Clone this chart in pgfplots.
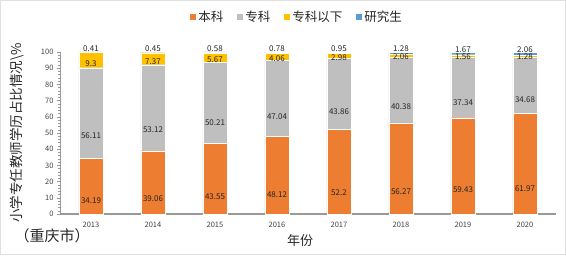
\documentclass[border=0pt]{standalone}
\usepackage{fontspec}
\setmainfont{Noto Sans CJK SC}
\usepackage{pgfplots}
\usepackage{pgfplotstable}
\pgfplotsset{compat=1.18}
\definecolor{cBK}{HTML}{ED7D31}
\definecolor{cZK}{HTML}{BFBFBF}
\definecolor{cXX}{HTML}{FFC000}
\definecolor{cYJ}{HTML}{5B9BD5}
\definecolor{txt}{HTML}{404040}

\pgfplotstableread{
x y
0 34.19
1 39.06
2 43.55
3 48.12
4 52.2
5 56.27
6 59.43
7 61.97
}\benke
\pgfplotstableread{
x y
0 56.11
1 53.12
2 50.21
3 47.04
4 43.86
5 40.38
6 37.34
7 34.68
}\zhuanke
\pgfplotstableread{
x y
0 9.3
1 7.37
2 5.67
3 4.06
4 2.98
5 2.06
6 1.56
7 1.28
}\yixia
\pgfplotstableread{
x y
0 0.41
1 0.45
2 0.58
3 0.78
4 0.95
5 1.28
6 1.67
7 2.06
}\yanjiu

\begin{document}
\begin{tikzpicture}
\draw[black!12, line width=0.8pt] (0.4pt,0.4pt) rectangle (565.6pt,254.6pt);
\begin{axis}[
  at={(60pt,41pt)}, anchor=south west,
  scale only axis, width=496pt, height=162pt,
  ybar stacked, bar width=24pt,
  xmin=-0.5, xmax=7.5, ymin=0, ymax=100,
  clip=false,
  xtick={0,1,2,3,4,5,6,7},
  xticklabels={2013,2014,2015,2016,2017,2018,2019,2020},
  ytick={0,10,...,100},
  minor y tick num=4,
  axis x line*=bottom, axis y line*=left,
  x axis line style={-, draw=black!40, line width=1.2pt},
  y axis line style={-, draw=black!40, line width=0.5pt},
  tick align=outside,
  x tick style={draw=none},
  y tick style={draw=black!40, line width=0.5pt},
  major tick length=3pt, minor tick length=1.8pt,
  /pgf/number format/assume math mode=true,
  ticklabel style={font=\fontsize{7.5}{8}\selectfont, text=txt},
  xticklabel style={yshift=-2pt},
  ylabel={小学专任教师学历占比情况\textbackslash\%},
  ylabel style={at={(axis description cs:-0.0867,0.5)}, anchor=center, font=\fontsize{13.5}{14}\selectfont, text=black!85},
  xlabel={年份},
  xlabel style={at={(axis description cs:0.484,-0.165)}, anchor=center, font=\fontsize{13}{14}\selectfont, text=black!85},
  legend columns=4,
  legend style={draw=none, at={(0.478,1.216)}, anchor=center,
    font=\fontsize{12.5}{13}\selectfont, text=black!85,
    /tikz/every even column/.append style={column sep=12pt}},
  legend image code/.code={\draw[#1, draw=none] (0pt,-3pt) rectangle (6pt,3pt);},
  nodes near coords,
  point meta=explicit,
  every node near coord/.append style={font=\fontsize{8}{9}\selectfont, text=black!85, inner sep=1pt},
]
\addplot[fill=cBK, draw=white, line width=0.3pt,
  visualization depends on={\thisrow{y} \as \val},
  every node near coord/.append style={anchor=center, yshift=-0.405pt*\val}]
  table[x=x, y=y, meta=y] {\benke};
\addlegendentry{本科}
\addplot[fill=cZK, draw=white, line width=0.3pt,
  visualization depends on={\thisrow{y} \as \val},
  every node near coord/.append style={anchor=center, yshift=-0.405pt*\val}]
  table[x=x, y=y, meta=y] {\zhuanke};
\addlegendentry{专科}
\addplot[fill=cXX, draw=white, line width=0.3pt,
  visualization depends on={\thisrow{y} \as \val},
  every node near coord/.append style={anchor=center, yshift=-0.405pt*\val}]
  table[x=x, y=y, meta=y] {\yixia};
\addlegendentry{专科以下}
\addplot[fill=cYJ, draw=white, line width=0.3pt,
  every node near coord/.append style={anchor=south, yshift=0pt}]
  table[x=x, y=y, meta=y] {\yanjiu};
\addlegendentry{研究生}
\node[font=\fontsize{15}{16}\selectfont, text=black!85] at (rel axis cs:-0.016,-0.136) {（重庆市）};
\end{axis}
\end{tikzpicture}
\end{document}
